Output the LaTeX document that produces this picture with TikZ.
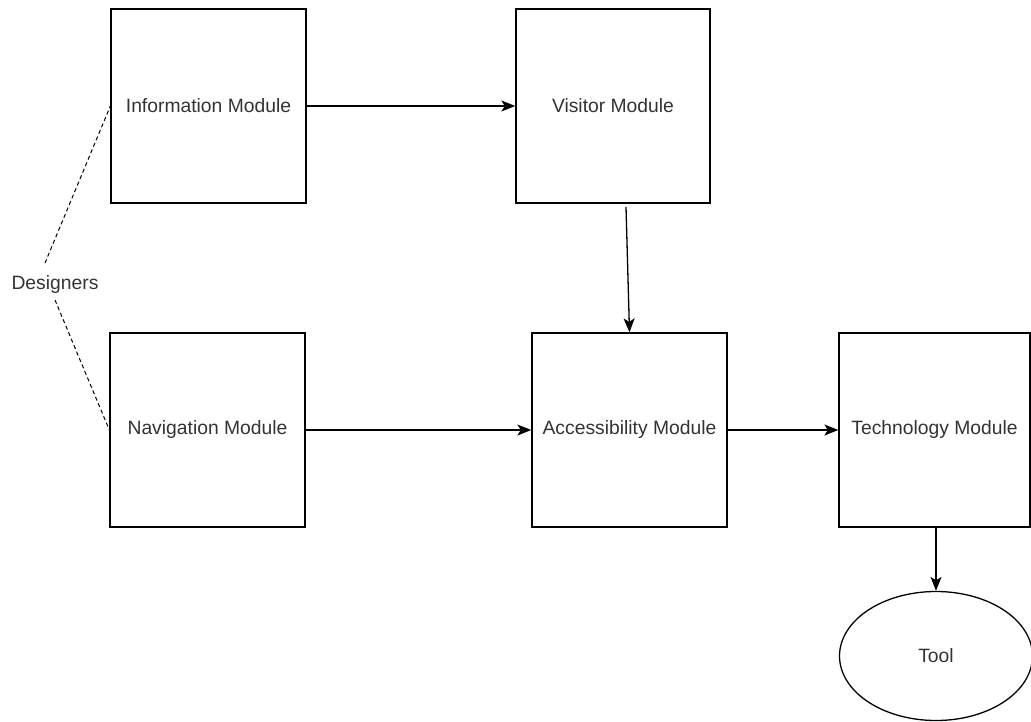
\documentclass[tikz,border=0pt]{standalone}
\usepackage{fontspec}
\setmainfont{Liberation Sans}
\usetikzlibrary{arrows.meta,shapes.geometric}
\definecolor{txt}{HTML}{333333}
\begin{document}
\begin{tikzpicture}[x=1pt,y=-1pt,
  module/.style={draw=black,line width=1.3pt,minimum width=195pt,minimum height=194pt,
    inner sep=0pt,font=\fontsize{19.3}{22}\selectfont,text=txt},
  flow/.style={draw=black,line width=1.3pt,-{Stealth[length=14pt,width=11pt,inset=3.5pt]}},
  link/.style={draw=black,line width=1pt,dash pattern=on 4pt off 3pt}]
  \useasboundingbox (0,0) rectangle (1031,721);

  % module boxes
  \node[module] (info) at (208.5,106) {Information Module};
  \node[module,minimum width=194pt] (vis) at (613,106) {Visitor Module};
  \node[module] (nav) at (207.5,430) {Navigation Module};
  \node[module] (acc) at (629.5,430) {Accessibility Module};
  \node[module,minimum width=191pt] (tech) at (934.5,430) {Technology Module};
  \node[draw=black,line width=1.3pt,ellipse,minimum width=193pt,minimum height=129pt,
    inner sep=0pt,font=\fontsize{19.3}{22}\selectfont,text=txt] (tool) at (936,656) {Tool};

  % designers label and its dashed links
  \node[font=\fontsize{19.3}{22}\selectfont,text=txt,inner sep=0pt] (des) at (55,285) {Designers};
  \coordinate (d1) at (45,263);
  \coordinate (d2) at (55,300);
  \draw[link] (d1) -- (info.west);
  \draw[link] (d2) -- (nav.west);

  % data flow
  \coordinate (vs) at (626,207);
  \draw[flow] (info.east) -- (vis.west);
  \draw[flow] (vs) -- (acc.north);
  \draw[flow] (nav.east) -- (acc.west);
  \draw[flow] (acc.east) -- (tech.west);
  \draw[flow] (tech.south -| tool.north) -- (tool.north);
\end{tikzpicture}
\end{document}
